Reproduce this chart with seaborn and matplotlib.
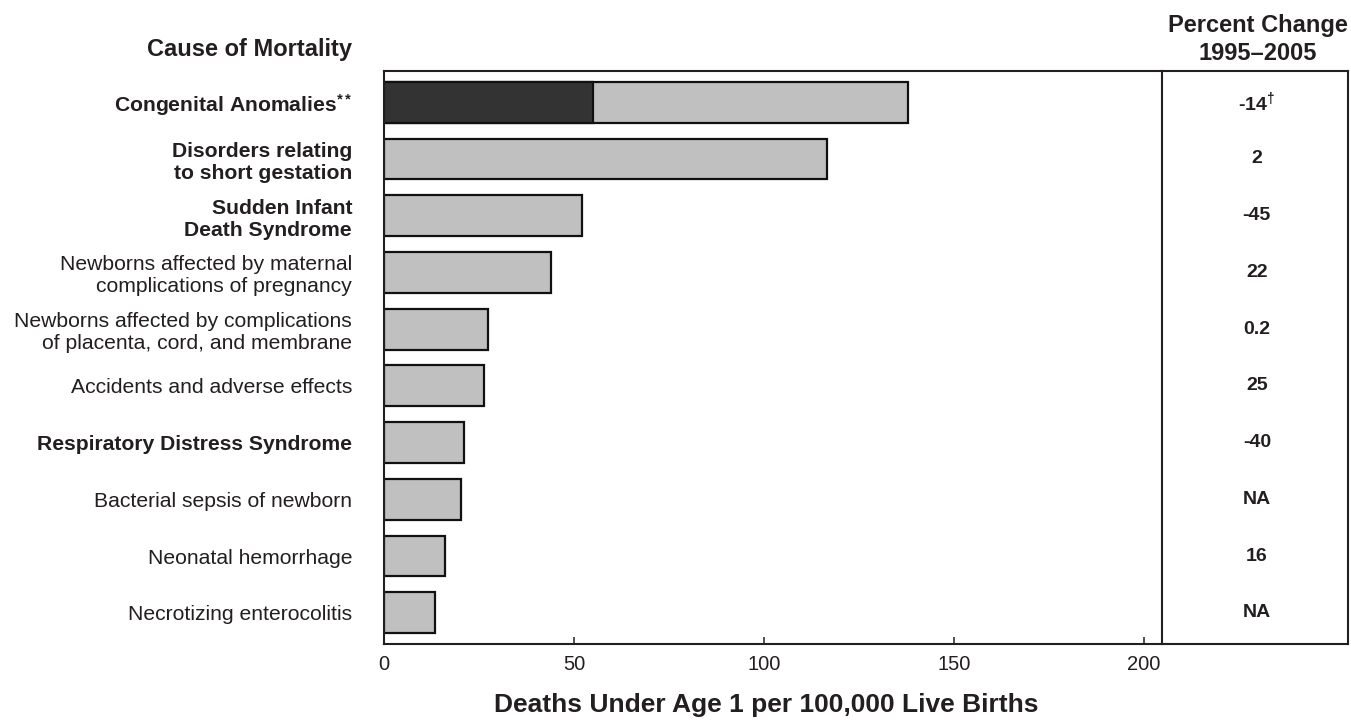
import matplotlib
matplotlib.use("Agg")
import matplotlib.pyplot as plt
import seaborn as sns
import pandas as pd
import numpy as np

# ---------------- data ----------------
causes = [
    "Congenital Anomalies$^{**}$",
    "Disorders relating\nto short gestation",
    "Sudden Infant\nDeath Syndrome",
    "Newborns affected by maternal\ncomplications of pregnancy",
    "Newborns affected by complications\nof placenta, cord, and membrane",
    "Accidents and adverse effects",
    "Respiratory Distress Syndrome",
    "Bacterial sepsis of newborn",
    "Neonatal hemorrhage",
    "Necrotizing enterocolitis",
]
bold_causes = [True, True, True, False, False, False, True, False, False, False]
deaths_total = [138.0, 116.5, 52.0, 44.0, 27.3, 26.4, 21.0, 20.3, 16.0, 13.3]
deaths_dark = [55.0]  # dark segment, first cause only
pct_change = ["-14$^{†}$", "2", "-45", "22", "0.2", "25", "-40", "NA", "16", "NA"]
x_ticks = [0, 50, 100, 150, 200]

header_left = "Cause of Mortality"
header_right_1 = "Percent Change"
header_right_2 = "1995–2005"
x_title = "Deaths Under Age 1 per 100,000 Live Births"

# ---------------- style ----------------
sns.set_style("white")
plt.rcParams["font.family"] = ["Liberation Sans", "DejaVu Sans"]
plt.rcParams["mathtext.fontset"] = "custom"
plt.rcParams["mathtext.it"] = "Liberation Sans:bold"
plt.rcParams["mathtext.rm"] = "Liberation Sans:bold"
plt.rcParams["mathtext.bf"] = "Liberation Sans:bold"

INK = "#231f20"
W, H = 1351, 721
fig = plt.figure(figsize=(W / 100, H / 100), dpi=100)

ax_left, ax_right, ax_top, ax_bot = 384, 1162, 71, 644
ax = fig.add_axes([ax_left / W, 1 - ax_bot / H, (ax_right - ax_left) / W, (ax_bot - ax_top) / H])
ax2 = fig.add_axes([ax_right / W, 1 - ax_bot / H, (1348 - ax_right) / W, (ax_bot - ax_top) / H])

df = pd.DataFrame({"cause": causes, "total": deaths_total})
df_dark = pd.DataFrame({"cause": causes[:1], "dark": deaths_dark})

sns.barplot(data=df, x="total", y="cause", order=causes, orient="h",
            color="#c0c0c0", saturation=1, edgecolor="#111111", linewidth=1.6,
            width=0.72, ax=ax)
sns.barplot(data=df_dark, x="dark", y="cause", order=causes, orient="h",
            color="#333333", saturation=1, edgecolor="#111111", linewidth=1.6,
            width=0.72, ax=ax)

ax.set_xlim(0, 204.7)
ax.set_ylim(9.55, -0.55)
ax.set_xticks(x_ticks)
ax.set_xticklabels([str(t) for t in x_ticks])
ax.set_xlabel("")
ax.set_ylabel("")
ax.tick_params(axis="x", direction="in", length=5, width=1.1, color=INK,
               labelsize=14.5, labelcolor=INK, pad=8, bottom=True)
ax.tick_params(axis="y", length=0, pad=23, labelsize=15.2, labelcolor=INK)
for lbl, b in zip(ax.get_yticklabels(), bold_causes):
    lbl.set_fontweight("bold" if b else "normal")
    lbl.set_linespacing(1.2)

for name, sp in ax.spines.items():
    sp.set_linewidth(1.5)
    sp.set_color(INK)
    sp.set_visible(name in ("left", "top", "bottom"))

# right panel
ax2.set_xlim(0, 1)
ax2.set_ylim(9.55, -0.55)
ax2.set_xticks([])
ax2.set_yticks([])
for sp in ax2.spines.values():
    sp.set_linewidth(1.5)
    sp.set_color(INK)
    sp.set_visible(True)
for i, v in enumerate(pct_change):
    ax2.text(0.51, i, v, ha="center", va="center", fontsize=14,
             fontweight="bold", color=INK)

# headers & axis title
fig.text(352 / W, 1 - 56 / H, header_left, ha="right", va="baseline",
         fontsize=17, fontweight="bold", color=INK)
fig.text(1258 / W, 1 - 32 / H, header_right_1, ha="center", va="baseline",
         fontsize=17, fontweight="bold", color=INK)
fig.text(1258 / W, 1 - 60 / H, header_right_2, ha="center", va="baseline",
         fontsize=17, fontweight="bold", color=INK)
fig.text(766 / W, 1 - 705 / H, x_title, ha="center", va="center",
         fontsize=19, fontweight="bold", color=INK)

fig.savefig("out.png", dpi=100)
